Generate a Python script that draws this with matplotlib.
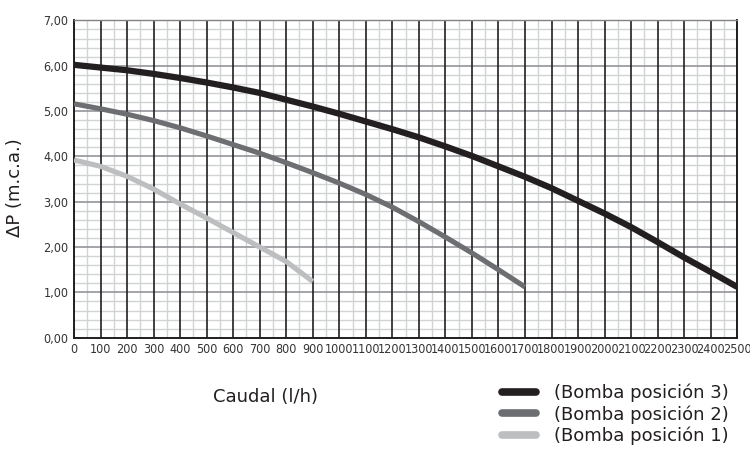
import matplotlib
matplotlib.use('Agg')
import matplotlib.pyplot as plt
from matplotlib.lines import Line2D
from matplotlib.ticker import MultipleLocator
from matplotlib import font_manager

# caudal (l/h) y presión (m.c.a.)
q_pos3 = [0, 100, 200, 300, 400, 500, 600, 700, 800, 900, 1000, 1100, 1200,
          1300, 1400, 1500, 1600, 1700, 1800, 1900, 2000, 2100, 2200, 2300, 2400, 2500]
p_pos3 = [6.02, 5.96, 5.90, 5.82, 5.73, 5.63, 5.52, 5.40, 5.25, 5.10, 4.94, 4.77, 4.60,
          4.42, 4.22, 4.01, 3.78, 3.55, 3.30, 3.02, 2.74, 2.44, 2.11, 1.77, 1.45, 1.12]

q_pos2 = [0, 100, 200, 300, 400, 500, 600, 700, 800, 900, 1000, 1100, 1200,
          1300, 1400, 1500, 1600, 1700]
p_pos2 = [5.16, 5.05, 4.93, 4.79, 4.63, 4.45, 4.26, 4.07, 3.86, 3.64, 3.41, 3.16, 2.88,
          2.56, 2.22, 1.87, 1.50, 1.12]

q_pos1 = [0, 100, 200, 300, 400, 500, 600, 700, 800, 900]
p_pos1 = [3.92, 3.78, 3.56, 3.28, 2.95, 2.64, 2.32, 2.00, 1.68, 1.24]

x_ticks = list(range(0, 2501, 100))
y_ticks = [0, 1, 2, 3, 4, 5, 6, 7]
y_labels = ['0,00', '1,00', '2,00', '3,00', '4,00', '5,00', '6,00', '7,00']
legend_labels = ['(Bomba posición 3)', '(Bomba posición 2)', '(Bomba posición 1)']

c3 = '#231f20'
c2 = '#6d6e71'
c1 = '#bcbec0'

# fuente estrecha para los números de los ejes, si hay alguna
tick_font = dict(family='Liberation Sans', size=7.7)
for fam in ['DejaVu Sans', 'Noto Sans', 'Open Sans', 'Roboto']:
    path = font_manager.findfont(font_manager.FontProperties(family=fam, stretch='condensed'))
    if 'Condensed' in path or 'Narrow' in path:
        tick_font = dict(family=fam, stretch='condensed', size=9)
        break

fig = plt.figure(figsize=(7.5, 4.57), dpi=100)
ax = fig.add_axes([74 / 750, 1 - 337.7 / 457, (737.2 - 74) / 750, (337.7 - 20.4) / 457])

ax.plot(q_pos3, p_pos3, color=c3, lw=4.5, solid_capstyle='butt', zorder=5)
ax.plot(q_pos2, p_pos2, color=c2, lw=3.7, solid_capstyle='butt', zorder=5)
ax.plot(q_pos1, p_pos1, color=c1, lw=3.7, solid_capstyle='butt', zorder=5)

ax.set_xlim(0, 2500)
ax.set_ylim(0, 7)
ax.set_xticks(x_ticks)
ax.set_xticklabels([str(v) for v in x_ticks])
ax.set_yticks(y_ticks)
ax.set_yticklabels(y_labels)
ax.xaxis.set_minor_locator(MultipleLocator(50))
ax.yaxis.set_minor_locator(MultipleLocator(0.2))

ax.set_axisbelow(True)
ax.grid(which='minor', axis='both', color='#d1d3d4', lw=1.0)
for v in y_ticks:
    ax.axhline(v, color='#939598', lw=1.2, zorder=1)
for v in x_ticks:
    ax.axvline(v, color=c3, lw=1.2, zorder=2)

ax.tick_params(which='both', length=0, pad=4)
for lab in ax.get_xticklabels() + ax.get_yticklabels():
    lab.set_fontproperties(font_manager.FontProperties(**tick_font))
    lab.set_color('#333333')

for side in ['left', 'bottom', 'right']:
    ax.spines[side].set_color(c3)
    ax.spines[side].set_linewidth(1.4)
ax.spines['top'].set_color('#808285')
ax.spines['top'].set_linewidth(1.0)

fig.text(15 / 750, 1 - 188 / 457, 'ΔP (m.c.a.)', rotation=90, ha='center', va='center',
         fontsize=13, color='#231f20')
fig.text(213 / 750, 1 - 397 / 457, 'Caudal (l/h)', ha='left', va='center',
         fontsize=13, color='#231f20')

handles = [Line2D([], [], color=c, lw=5.5, solid_capstyle='round') for c in [c3, c2, c1]]
fig.legend(handles, legend_labels, loc='upper left', bbox_to_anchor=(502 / 750, 1 - 384 / 457),
           frameon=False, fontsize=13, handlelength=1.9, handletextpad=1.0,
           labelspacing=0.15, borderpad=0, borderaxespad=0, labelcolor='#231f20')

fig.savefig('out.png', dpi=100)
